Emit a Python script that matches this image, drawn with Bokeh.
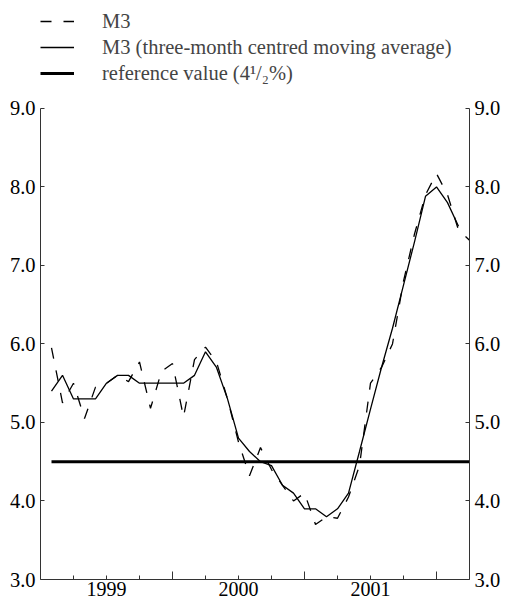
from bokeh.plotting import figure
from bokeh.models import (LinearAxis, FixedTicker, NumeralTickFormatter, Legend,
                          LegendItem, Range1d, ColumnDataSource)
from bokeh.embed import file_html
from bokeh.resources import INLINE

# ---- data -------------------------------------------------------------
months = [f"{y}-{m:02d}" for y in (1999, 2000, 2001) for m in range(1, 13)] + \
         ["2002-01", "2002-02", "2002-03"]

# M3 annual growth (monthly, %)
m3 = [5.95, 5.25, 5.50, 5.05, 5.45, 5.50, 5.60, 5.52, 5.77, 5.18, 5.65, 5.75,
      5.07, 5.80, 5.96, 5.77, 5.30, 4.75, 4.32, 4.68, 4.40, 4.20, 4.00, 4.10,
      3.70, 3.80, 3.78, 4.05, 4.45, 5.50, 5.70, 6.00, 6.80, 7.40, 7.90, 8.17,
      7.90, 7.45, 7.32]

# M3 three-month centred moving average (%), Jan 1999 - Feb 2002
m3_ma = [5.40, 5.60, 5.30, 5.30, 5.30, 5.50, 5.60, 5.60, 5.50, 5.50, 5.50, 5.50,
         5.50, 5.60, 5.90, 5.70, 5.30, 4.80, 4.63, 4.50, 4.45, 4.20, 4.10, 3.90,
         3.90, 3.80, 3.90, 4.10, 4.63, 5.17, 5.70, 6.20, 6.75, 7.30, 7.88, 8.00,
         7.80, 7.50]

reference_value = 4.5

year_labels = {6: "1999", 18: "2000", 30: "2001"}
year_ticks = [12, 24, 36]
quarter_ticks = [3, 6, 9, 15, 18, 21, 27, 30, 33]
y_ticks = [3, 4, 5, 6, 7, 8, 9]


def month_pos(s):
    # monthly observations plotted at month end, in months since Jan 1999
    return (int(s[:4]) - 1999) * 12 + int(s[5:])


x_m3 = [month_pos(s) for s in months]
x_ma = [month_pos(s) for s in months[:len(m3_ma)]]

FONT = "'Liberation Serif', 'Times New Roman', serif"

p = figure(width=505, height=598, output_backend="svg", toolbar_location=None,
           x_range=Range1d(0, 39), y_range=Range1d(3, 10.272),
           x_axis_location=None, y_axis_location=None,
           min_border_left=40, min_border_right=36, min_border_top=8,
           min_border_bottom=0)
p.outline_line_color = None
p.grid.visible = False
p.background_fill_color = "white"
p.border_fill_color = "white"

src_m3 = ColumnDataSource(dict(x=x_m3, y=m3))
src_ma = ColumnDataSource(dict(x=x_ma, y=m3_ma))
src_ref = ColumnDataSource(dict(x=[x_m3[0], x_m3[-1]],
                                y=[reference_value, reference_value]))

r_m3 = p.line("x", "y", source=src_m3, line_dash="11 12", line_width=1.3,
              line_color="black")
r_ma = p.line("x", "y", source=src_ma, line_width=1.3, line_color="black")
r_ref = p.line("x", "y", source=src_ref, line_width=3, line_color="black")


def yaxis(standoff):
    return LinearAxis(ticker=FixedTicker(ticks=y_ticks, minor_ticks=[]),
                      formatter=NumeralTickFormatter(format="0.0"),
                      bounds=(3, 9), major_tick_in=4, major_tick_out=0,
                      minor_tick_line_color=None,
                      major_label_standoff=standoff,
                      major_label_text_font=FONT,
                      major_label_text_font_size="20.5px",
                      major_label_text_color="black",
                      axis_line_color="#333333", major_tick_line_color="#333333")


p.add_layout(yaxis(5), "left")
p.add_layout(yaxis(5), "right")

xticks_axis = LinearAxis(ticker=FixedTicker(ticks=year_ticks, minor_ticks=quarter_ticks),
                         major_tick_in=8, major_tick_out=0,
                         minor_tick_in=4, minor_tick_out=0,
                         major_label_overrides={t: "" for t in year_ticks},
                         major_label_text_font_size="0px",
                         major_label_standoff=0,
                         axis_line_color="#333333",
                         major_tick_line_color="#333333",
                         minor_tick_line_color="#333333")
p.add_layout(xticks_axis, "below")

xlabel_axis = LinearAxis(ticker=FixedTicker(ticks=list(year_labels), minor_ticks=[]),
                         major_label_overrides=year_labels,
                         axis_line_color=None, major_tick_line_color=None,
                         minor_tick_line_color=None,
                         major_tick_in=0, major_tick_out=0,
                         major_label_standoff=2,
                         major_label_text_font=FONT,
                         major_label_text_font_size="20px",
                         major_label_text_color="black")
p.add_layout(xlabel_axis, "below")

legend = Legend(items=[LegendItem(label="M3", renderers=[r_m3]),
                       LegendItem(label="M3 (three-month centred moving average)",
                                  renderers=[r_ma]),
                       LegendItem(label="reference value (4\u00b9/\u2082%)",
                                  renderers=[r_ref])],
                location="top_left", margin=0, padding=1, spacing=0,
                glyph_width=34, glyph_height=26, label_height=26,
                label_standoff=28, label_text_font=FONT,
                label_text_font_size="20.5px", border_line_color=None,
                background_fill_alpha=0)
p.add_layout(legend)

open("out.html", "w").write(file_html(p, INLINE))
